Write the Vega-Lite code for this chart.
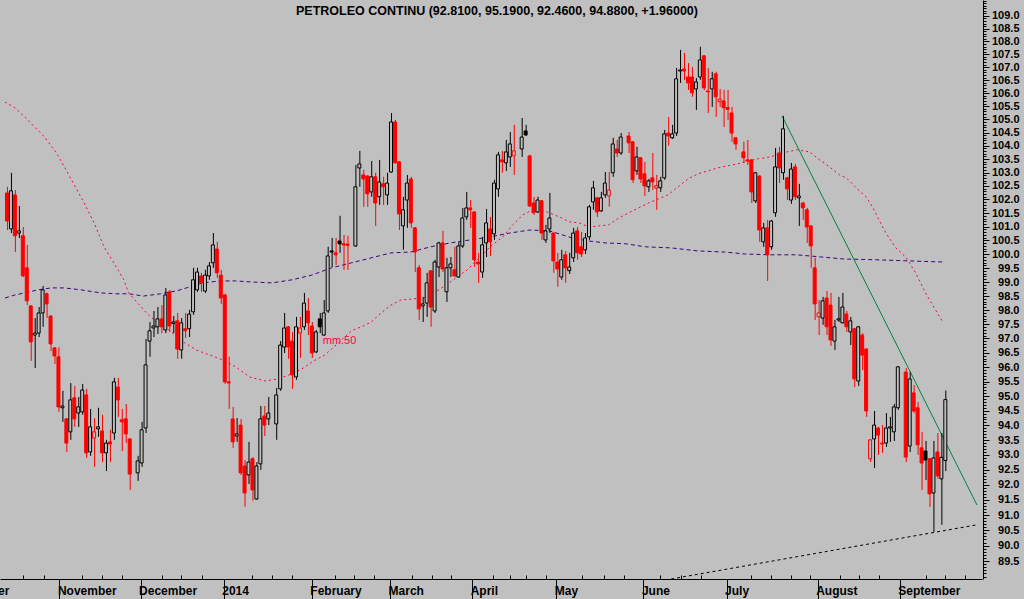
{
"$schema": "https://vega.github.io/schema/vega-lite/v6.json",
"width": 982, "height": 579,
"autosize": {"type": "none"}, "padding": {"left": 0, "top": 0, "right": 42, "bottom": 20},
"background": "#c0c0c0",
"config": {"view": {"stroke": null}, "font": "Liberation Sans"},
"title": {"text": "PETROLEO CONTINU (92.8100, 95.1900, 92.4600, 94.8800, +1.96000)", "anchor": "middle", "offset": -27, "dx": 6, "font": "Liberation Sans", "fontSize": 12.5, "fontWeight": "bold", "color": "#000000", "baseline": "alphabetic"},
"resolve": {"axis": {"x": "independent", "y": "independent"}},
"datasets": {
"candles": [
{"n":0,"o":102.24,"h":102.47,"l":100.88,"c":101.21},
{"n":1,"o":100.92,"h":102.99,"l":100.77,"c":102.32},
{"n":2,"o":102.17,"h":102.35,"l":100.08,"c":100.67},
{"n":3,"o":100.77,"h":101.76,"l":100.59,"c":100.85},
{"n":4,"o":100.67,"h":100.99,"l":99.18,"c":99.22},
{"n":5,"o":99.51,"h":100.34,"l":98.18,"c":98.33},
{"n":6,"o":98.15,"h":98.17,"l":96.22,"c":96.88},
{"n":7,"o":97.12,"h":97.72,"l":95.97,"c":97.19},
{"n":8,"o":97.19,"h":98.11,"l":97.05,"c":97.90},
{"n":9,"o":97.90,"h":98.86,"l":97.41,"c":98.72},
{"n":10,"o":98.58,"h":98.62,"l":97.72,"c":98.22},
{"n":11,"o":97.79,"h":97.82,"l":96.56,"c":96.81},
{"n":12,"o":96.67,"h":96.70,"l":96.11,"c":96.39},
{"n":13,"o":96.36,"h":96.70,"l":94.46,"c":94.63},
{"n":14,"o":94.60,"h":95.18,"l":94.12,"c":94.66},
{"n":15,"o":94.22,"h":94.25,"l":93.10,"c":93.40},
{"n":16,"o":93.78,"h":95.45,"l":93.51,"c":94.87},
{"n":17,"o":94.94,"h":95.35,"l":93.95,"c":94.22},
{"n":18,"o":94.42,"h":94.97,"l":93.95,"c":94.63},
{"n":19,"o":94.46,"h":95.42,"l":94.36,"c":95.21},
{"n":20,"o":95.04,"h":95.25,"l":92.90,"c":93.07},
{"n":21,"o":93.10,"h":94.56,"l":92.97,"c":93.95},
{"n":22,"o":93.57,"h":94.25,"l":92.60,"c":93.78},
{"n":23,"o":93.88,"h":94.60,"l":93.61,"c":93.95},
{"n":24,"o":93.81,"h":94.36,"l":92.76,"c":93.07},
{"n":25,"o":93.07,"h":93.51,"l":92.46,"c":93.40},
{"n":26,"o":93.44,"h":93.85,"l":92.76,"c":93.37},
{"n":27,"o":93.74,"h":95.63,"l":93.51,"c":95.49},
{"n":28,"o":95.31,"h":95.63,"l":94.29,"c":94.87},
{"n":29,"o":94.19,"h":94.56,"l":93.13,"c":94.12},
{"n":30,"o":94.22,"h":94.73,"l":93.40,"c":93.71},
{"n":31,"o":93.54,"h":93.57,"l":91.83,"c":92.36},
{"n":33,"o":92.40,"h":92.97,"l":92.13,"c":92.80},
{"n":34,"o":92.73,"h":94.12,"l":92.60,"c":93.85},
{"n":35,"o":93.91,"h":96.98,"l":93.74,"c":96.08},
{"n":36,"o":96.91,"h":97.58,"l":96.36,"c":97.27},
{"n":37,"o":97.37,"h":97.97,"l":97.05,"c":97.44},
{"n":38,"o":97.41,"h":98.11,"l":97.16,"c":97.69},
{"n":39,"o":97.69,"h":98.18,"l":97.19,"c":97.41},
{"n":40,"o":97.30,"h":98.79,"l":97.19,"c":98.54},
{"n":41,"o":98.65,"h":98.72,"l":97.23,"c":97.44},
{"n":42,"o":97.53,"h":97.79,"l":97.19,"c":97.58},
{"n":43,"o":97.62,"h":97.90,"l":96.29,"c":96.63},
{"n":44,"o":96.60,"h":97.72,"l":96.29,"c":97.55},
{"n":45,"o":97.34,"h":97.90,"l":97.02,"c":97.27},
{"n":46,"o":97.34,"h":98.01,"l":97.05,"c":97.86},
{"n":47,"o":97.94,"h":99.51,"l":97.83,"c":99.08},
{"n":48,"o":98.72,"h":99.51,"l":98.65,"c":99.36},
{"n":49,"o":99.22,"h":99.33,"l":98.65,"c":98.97},
{"n":50,"o":98.68,"h":99.44,"l":98.61,"c":99.25},
{"n":51,"o":99.22,"h":99.72,"l":99.08,"c":99.58},
{"n":52,"o":99.69,"h":100.77,"l":99.51,"c":100.34},
{"n":53,"o":100.19,"h":100.45,"l":99.15,"c":99.33},
{"n":54,"o":99.25,"h":99.44,"l":98.22,"c":98.43},
{"n":55,"o":98.54,"h":98.58,"l":95.42,"c":95.49},
{"n":56,"o":95.49,"h":96.36,"l":94.56,"c":95.45},
{"n":57,"o":94.22,"h":94.63,"l":93.24,"c":93.44},
{"n":58,"o":93.64,"h":94.25,"l":93.44,"c":93.71},
{"n":59,"o":94.01,"h":94.22,"l":92.33,"c":92.40},
{"n":60,"o":92.63,"h":92.83,"l":91.27,"c":91.73},
{"n":61,"o":92.33,"h":93.44,"l":92.03,"c":92.76},
{"n":62,"o":92.87,"h":92.93,"l":91.47,"c":91.83},
{"n":63,"o":91.53,"h":92.76,"l":91.50,"c":92.63},
{"n":64,"o":92.70,"h":94.66,"l":92.50,"c":94.22},
{"n":65,"o":94.32,"h":94.66,"l":93.64,"c":94.01},
{"n":66,"o":94.22,"h":94.97,"l":94.01,"c":94.42},
{"n":68,"o":94.05,"h":95.28,"l":93.51,"c":95.04},
{"n":69,"o":95.25,"h":96.91,"l":95.18,"c":96.77},
{"n":70,"o":96.70,"h":97.90,"l":96.49,"c":97.37},
{"n":71,"o":97.41,"h":97.44,"l":96.29,"c":96.70},
{"n":72,"o":96.91,"h":97.23,"l":95.25,"c":95.73},
{"n":73,"o":95.66,"h":97.76,"l":95.56,"c":97.41},
{"n":74,"o":97.19,"h":97.76,"l":96.32,"c":97.37},
{"n":75,"o":97.41,"h":98.61,"l":97.30,"c":98.25},
{"n":76,"o":97.97,"h":98.43,"l":97.12,"c":97.55},
{"n":77,"o":97.44,"h":97.58,"l":96.32,"c":96.49},
{"n":78,"o":96.53,"h":97.30,"l":96.49,"c":97.23},
{"n":79,"o":97.69,"h":97.90,"l":97.19,"c":97.41},
{"n":80,"o":97.12,"h":98.36,"l":97.09,"c":97.90},
{"n":81,"o":97.97,"h":100.27,"l":97.90,"c":99.94},
{"n":82,"o":100.12,"h":100.59,"l":99.54,"c":100.08},
{"n":83,"o":100.05,"h":100.59,"l":99.61,"c":99.98},
{"n":84,"o":100.48,"h":101.40,"l":100.05,"c":100.38},
{"n":85,"o":100.38,"h":100.70,"l":99.44,"c":100.34},
{"n":86,"o":100.37,"h":100.67,"l":99.44,"c":100.32},
{"n":88,"o":100.30,"h":103.28,"l":100.27,"c":102.47},
{"n":89,"o":103.17,"h":103.81,"l":102.47,"c":103.32},
{"n":90,"o":102.91,"h":103.10,"l":101.73,"c":102.76},
{"n":91,"o":102.87,"h":102.90,"l":101.73,"c":102.21},
{"n":92,"o":102.28,"h":103.43,"l":102.10,"c":102.84},
{"n":93,"o":102.84,"h":102.99,"l":101.03,"c":101.87},
{"n":94,"o":102.10,"h":103.47,"l":101.80,"c":102.65},
{"n":95,"o":102.58,"h":102.84,"l":101.80,"c":102.47},
{"n":96,"o":102.17,"h":102.99,"l":101.80,"c":102.61},
{"n":97,"o":103.02,"h":105.24,"l":102.99,"c":104.90},
{"n":98,"o":104.90,"h":104.98,"l":103.34,"c":103.36},
{"n":99,"o":103.40,"h":103.42,"l":100.88,"c":101.47},
{"n":100,"o":101.03,"h":102.10,"l":100.16,"c":101.62},
{"n":101,"o":101.98,"h":102.91,"l":100.96,"c":102.61},
{"n":102,"o":102.76,"h":102.84,"l":100.96,"c":101.14},
{"n":103,"o":100.96,"h":100.99,"l":99.36,"c":100.08},
{"n":104,"o":99.51,"h":99.61,"l":97.65,"c":98.04},
{"n":105,"o":98.15,"h":98.47,"l":97.58,"c":98.22},
{"n":106,"o":98.25,"h":99.33,"l":97.76,"c":98.97},
{"n":107,"o":99.40,"h":99.43,"l":97.41,"c":98.11},
{"n":108,"o":97.97,"h":99.80,"l":97.90,"c":99.72},
{"n":109,"o":99.54,"h":100.45,"l":99.18,"c":100.41},
{"n":110,"o":100.41,"h":100.85,"l":99.36,"c":99.47},
{"n":111,"o":98.65,"h":99.87,"l":98.29,"c":99.51},
{"n":112,"o":99.51,"h":99.90,"l":99.18,"c":99.65},
{"n":113,"o":99.44,"h":100.27,"l":99.18,"c":99.22},
{"n":114,"o":99.18,"h":100.45,"l":99.15,"c":100.30},
{"n":115,"o":100.30,"h":101.69,"l":100.23,"c":101.32},
{"n":116,"o":101.36,"h":102.28,"l":101.25,"c":101.69},
{"n":117,"o":101.69,"h":101.98,"l":100.96,"c":101.62},
{"n":118,"o":101.54,"h":101.57,"l":99.54,"c":99.80},
{"n":119,"o":99.72,"h":100.05,"l":98.97,"c":99.65},
{"n":120,"o":99.36,"h":100.63,"l":99.15,"c":100.34},
{"n":121,"o":100.41,"h":101.65,"l":99.90,"c":101.14},
{"n":122,"o":100.92,"h":101.36,"l":99.94,"c":100.45},
{"n":123,"o":100.74,"h":102.73,"l":100.52,"c":102.61},
{"n":124,"o":102.39,"h":103.77,"l":102.10,"c":103.66},
{"n":125,"o":103.47,"h":103.81,"l":102.99,"c":103.40},
{"n":126,"o":103.36,"h":104.22,"l":103.06,"c":103.77},
{"n":127,"o":103.58,"h":104.52,"l":103.21,"c":104.07},
{"n":128,"o":103.62,"h":104.79,"l":102.91,"c":103.81},
{"n":130,"o":103.88,"h":105.05,"l":103.58,"c":104.33},
{"n":131,"o":104.56,"h":104.79,"l":104.37,"c":104.41},
{"n":132,"o":103.62,"h":103.66,"l":101.73,"c":101.76},
{"n":133,"o":101.87,"h":102.10,"l":101.43,"c":101.51},
{"n":134,"o":101.54,"h":102.10,"l":101.51,"c":101.98},
{"n":135,"o":101.95,"h":101.98,"l":100.52,"c":100.77},
{"n":136,"o":100.52,"h":101.07,"l":100.41,"c":100.85},
{"n":137,"o":100.92,"h":102.24,"l":100.77,"c":101.32},
{"n":138,"o":100.77,"h":100.80,"l":99.33,"c":99.76},
{"n":139,"o":99.72,"h":100.05,"l":98.83,"c":99.47},
{"n":140,"o":99.18,"h":100.16,"l":99.08,"c":99.80},
{"n":141,"o":99.98,"h":100.12,"l":98.97,"c":99.51},
{"n":142,"o":99.41,"h":100.05,"l":99.29,"c":99.54},
{"n":143,"o":99.87,"h":100.96,"l":99.72,"c":100.77},
{"n":144,"o":100.85,"h":100.99,"l":99.80,"c":100.05},
{"n":145,"o":100.27,"h":100.81,"l":99.90,"c":100.01},
{"n":146,"o":100.16,"h":100.77,"l":100.01,"c":100.59},
{"n":147,"o":100.63,"h":101.80,"l":100.52,"c":101.73},
{"n":148,"o":101.91,"h":102.69,"l":101.62,"c":102.43},
{"n":149,"o":102.06,"h":102.10,"l":101.36,"c":101.54},
{"n":150,"o":101.58,"h":102.28,"l":101.54,"c":102.06},
{"n":151,"o":102.17,"h":103.02,"l":102.06,"c":102.61},
{"n":152,"o":102.13,"h":103.02,"l":101.73,"c":102.35},
{"n":153,"o":102.99,"h":104.30,"l":102.84,"c":104.07},
{"n":154,"o":103.88,"h":104.22,"l":103.58,"c":103.73},
{"n":155,"o":103.73,"h":104.48,"l":103.66,"c":104.33},
{"n":157,"o":104.37,"h":104.52,"l":103.73,"c":104.11},
{"n":158,"o":104.15,"h":104.18,"l":102.61,"c":102.73},
{"n":159,"o":103.06,"h":103.96,"l":102.91,"c":103.58},
{"n":160,"o":103.55,"h":103.58,"l":102.61,"c":102.76},
{"n":161,"o":102.95,"h":103.40,"l":102.13,"c":102.50},
{"n":162,"o":102.47,"h":102.76,"l":102.28,"c":102.69},
{"n":163,"o":102.80,"h":103.73,"l":102.35,"c":102.65},
{"n":164,"o":102.42,"h":102.91,"l":101.62,"c":102.51},
{"n":165,"o":102.43,"h":102.84,"l":102.28,"c":102.69},
{"n":166,"o":102.80,"h":104.60,"l":102.73,"c":104.45},
{"n":167,"o":104.48,"h":105.09,"l":104.00,"c":104.37},
{"n":168,"o":104.30,"h":104.79,"l":104.26,"c":104.45},
{"n":169,"o":104.48,"h":106.97,"l":104.37,"c":106.55},
{"n":170,"o":106.85,"h":107.67,"l":106.39,"c":106.89},
{"n":171,"o":106.93,"h":107.55,"l":106.51,"c":106.85},
{"n":172,"o":106.62,"h":107.16,"l":106.12,"c":106.39},
{"n":173,"o":106.62,"h":107.01,"l":105.86,"c":106.01},
{"n":174,"o":106.16,"h":106.58,"l":105.36,"c":106.43},
{"n":175,"o":106.62,"h":107.79,"l":106.51,"c":107.28},
{"n":176,"o":107.44,"h":107.47,"l":106.12,"c":106.20},
{"n":177,"o":106.08,"h":106.97,"l":105.24,"c":106.05},
{"n":178,"o":106.16,"h":106.82,"l":105.47,"c":106.55},
{"n":179,"o":106.74,"h":106.82,"l":105.09,"c":105.86},
{"n":180,"o":105.67,"h":106.16,"l":105.47,"c":105.77},
{"n":181,"o":105.70,"h":106.12,"l":104.71,"c":105.44},
{"n":182,"o":105.45,"h":106.12,"l":104.98,"c":105.38},
{"n":183,"o":105.24,"h":105.47,"l":104.15,"c":104.48},
{"n":184,"o":104.30,"h":104.33,"l":103.85,"c":104.07},
{"n":186,"o":103.77,"h":104.15,"l":103.36,"c":103.55},
{"n":187,"o":103.47,"h":104.22,"l":103.28,"c":103.43},
{"n":188,"o":103.47,"h":103.50,"l":101.87,"c":102.28},
{"n":189,"o":101.95,"h":103.02,"l":101.87,"c":102.99},
{"n":190,"o":102.87,"h":102.90,"l":100.45,"c":100.88},
{"n":191,"o":100.45,"h":101.14,"l":100.27,"c":100.96},
{"n":192,"o":100.96,"h":101.25,"l":99.04,"c":99.98},
{"n":193,"o":100.27,"h":101.25,"l":100.16,"c":101.21},
{"n":194,"o":101.51,"h":103.92,"l":101.36,"c":103.21},
{"n":195,"o":103.73,"h":103.96,"l":102.61,"c":103.17},
{"n":196,"o":102.99,"h":105.13,"l":102.73,"c":104.64},
{"n":197,"o":102.80,"h":102.84,"l":101.98,"c":102.39},
{"n":198,"o":101.98,"h":103.36,"l":101.84,"c":103.13},
{"n":199,"o":103.21,"h":103.32,"l":101.98,"c":102.10},
{"n":200,"o":102.06,"h":102.58,"l":101.03,"c":102.13},
{"n":201,"o":101.87,"h":101.91,"l":101.25,"c":101.69},
{"n":202,"o":101.62,"h":101.69,"l":100.41,"c":100.99},
{"n":203,"o":101.03,"h":101.06,"l":99.51,"c":100.30},
{"n":204,"o":99.51,"h":99.87,"l":97.65,"c":98.22},
{"n":205,"o":97.76,"h":98.36,"l":97.12,"c":97.90},
{"n":206,"o":97.72,"h":98.47,"l":97.48,"c":98.33},
{"n":207,"o":98.43,"h":98.68,"l":97.12,"c":97.41},
{"n":208,"o":98.18,"h":98.61,"l":96.74,"c":96.95},
{"n":209,"o":96.91,"h":97.65,"l":96.60,"c":97.41},
{"n":210,"o":97.65,"h":98.47,"l":97.58,"c":97.69},
{"n":211,"o":97.55,"h":98.61,"l":97.53,"c":98.11},
{"n":212,"o":97.86,"h":97.97,"l":97.23,"c":97.41},
{"n":213,"o":97.23,"h":97.76,"l":96.77,"c":97.62},
{"n":214,"o":97.34,"h":97.37,"l":95.31,"c":95.59},
{"n":215,"o":95.52,"h":97.44,"l":95.35,"c":97.41},
{"n":216,"o":97.12,"h":97.19,"l":95.90,"c":96.42},
{"n":217,"o":96.63,"h":96.66,"l":94.29,"c":94.49},
{"n":218,"o":92.87,"h":93.53,"l":92.76,"c":93.51},
{"n":219,"o":93.54,"h":94.49,"l":92.56,"c":94.01},
{"n":220,"o":93.91,"h":93.95,"l":93.00,"c":93.67},
{"n":221,"o":93.40,"h":94.01,"l":93.07,"c":93.37},
{"n":222,"o":93.40,"h":94.42,"l":93.27,"c":93.91},
{"n":223,"o":93.91,"h":94.29,"l":93.44,"c":93.95},
{"n":224,"o":93.78,"h":94.73,"l":93.47,"c":94.63},
{"n":225,"o":94.60,"h":96.04,"l":94.53,"c":96.01},
{"n":227,"o":95.83,"h":95.97,"l":92.76,"c":92.93},
{"n":228,"o":93.30,"h":95.83,"l":93.10,"c":95.59},
{"n":229,"o":95.11,"h":95.38,"l":94.42,"c":94.49},
{"n":230,"o":94.60,"h":94.80,"l":93.00,"c":93.34},
{"n":231,"o":93.24,"h":93.78,"l":91.83,"c":92.73},
{"n":232,"o":93.13,"h":93.47,"l":92.16,"c":92.83},
{"n":233,"o":92.87,"h":92.90,"l":91.27,"c":91.70},
{"n":234,"o":91.73,"h":93.47,"l":90.45,"c":92.90},
{"n":235,"o":93.10,"h":93.74,"l":92.20,"c":92.30},
{"n":236,"o":92.20,"h":93.74,"l":90.68,"c":92.92},
{"n":237,"o":92.81,"h":95.19,"l":92.46,"c":94.88}
],
"ma50": [
{"n":-0.5,"v":105.66},{"n":2,"v":105.44},{"n":4.5,"v":105.09},{"n":7,"v":104.71},{"n":9.5,"v":104.33},{"n":12.5,"v":103.73},{"n":14.5,"v":103.21},{"n":17,"v":102.54},{"n":19.5,"v":101.87},{"n":22,"v":101.14},{"n":24.5,"v":100.27},{"n":27,"v":99.69},{"n":29.5,"v":99.08},{"n":30.75,"v":98.61},{"n":32.75,"v":98.29},{"n":35.25,"v":97.90},{"n":37.75,"v":97.58},{"n":40.25,"v":97.37},{"n":44.5,"v":96.88},{"n":47.75,"v":96.60},{"n":51.25,"v":96.42},{"n":54.5,"v":96.25},{"n":57.75,"v":96.01},{"n":61.25,"v":95.66},{"n":65.25,"v":95.52},{"n":68.25,"v":95.59},{"n":71.25,"v":95.73},{"n":74.5,"v":95.94},{"n":77.5,"v":96.22},{"n":80.25,"v":96.42},{"n":84,"v":96.88},{"n":87,"v":97.27},{"n":89.5,"v":97.41},{"n":92,"v":97.58},{"n":94.5,"v":97.90},{"n":97,"v":98.18},{"n":99.5,"v":98.36},{"n":102.75,"v":98.40},{"n":105.25,"v":98.43},{"n":107.75,"v":98.61},{"n":110.25,"v":98.83},{"n":112.75,"v":99.08},{"n":116.25,"v":99.44},{"n":118.75,"v":99.80},{"n":122,"v":100.27},{"n":125.25,"v":100.63},{"n":127.75,"v":101.07},{"n":130.25,"v":101.43},{"n":132.75,"v":101.62},{"n":135.75,"v":101.58},{"n":139.5,"v":101.36},{"n":142,"v":101.18},{"n":144.5,"v":101.14},{"n":147,"v":100.99},{"n":149.5,"v":101.03},{"n":152,"v":101.07},{"n":153.75,"v":101.25},{"n":157,"v":101.51},{"n":159.5,"v":101.69},{"n":162,"v":101.87},{"n":164.5,"v":102.02},{"n":167,"v":102.17},{"n":169.5,"v":102.47},{"n":172,"v":102.76},{"n":174.5,"v":102.95},{"n":177,"v":103.06},{"n":179.5,"v":103.17},{"n":182,"v":103.25},{"n":184.5,"v":103.32},{"n":189.5,"v":103.51},{"n":192.75,"v":103.58},{"n":195.75,"v":103.73},{"n":199.5,"v":103.85},{"n":202.75,"v":103.77},{"n":205.25,"v":103.47},{"n":207.75,"v":103.21},{"n":210.25,"v":102.91},{"n":212,"v":102.80},{"n":214.5,"v":102.43},{"n":217,"v":102.10},{"n":218.75,"v":101.69},{"n":220.25,"v":101.25},{"n":222,"v":100.77},{"n":224.5,"v":100.23},{"n":227,"v":99.90},{"n":229.5,"v":99.33},{"n":232,"v":98.61},{"n":234.5,"v":98.01},{"n":236.5,"v":97.55}
],
"ma200": [
{"n":-0.5,"v":98.43},{"n":2,"v":98.54},{"n":4.5,"v":98.61},{"n":7.75,"v":98.72},{"n":11.25,"v":98.79},{"n":14.5,"v":98.79},{"n":18.75,"v":98.72},{"n":23.75,"v":98.61},{"n":27.75,"v":98.58},{"n":30.75,"v":98.58},{"n":34.5,"v":98.50},{"n":38.75,"v":98.58},{"n":42.75,"v":98.68},{"n":46.25,"v":98.83},{"n":49.5,"v":98.97},{"n":53.75,"v":99.04},{"n":57.75,"v":99.04},{"n":62,"v":99.00},{"n":67,"v":98.97},{"n":72,"v":99.08},{"n":77,"v":99.25},{"n":82,"v":99.51},{"n":87,"v":99.69},{"n":92,"v":99.87},{"n":97,"v":100.05},{"n":102,"v":100.08},{"n":107,"v":100.27},{"n":112,"v":100.41},{"n":117,"v":100.52},{"n":122,"v":100.63},{"n":127,"v":100.77},{"n":132,"v":100.88},{"n":137,"v":100.85},{"n":142.75,"v":100.59},{"n":147,"v":100.48},{"n":151.25,"v":100.41},{"n":156.25,"v":100.38},{"n":161.25,"v":100.27},{"n":167.75,"v":100.23},{"n":174.5,"v":100.12},{"n":181.25,"v":100.08},{"n":186.25,"v":100.01},{"n":192.75,"v":99.98},{"n":199.5,"v":99.98},{"n":211.25,"v":99.83},{"n":219.5,"v":99.80},{"n":227.75,"v":99.76},{"n":236.25,"v":99.72}
],
"trend": [{"n":195.75,"v":105.13},{"n":245,"v":91.33}],
"support": [{"n":167.75,"v":88.92},{"n":245,"v":90.68}]
},
"layer": [
{"data": {"name": "ma200"},
 "mark": {"type": "line", "color": "#400080", "strokeWidth": 1, "strokeDash": [4, 3]},
 "encoding": {
  "x": {"field": "n", "type": "quantitative", "scale": {"domain": [-0.5, 245], "nice": false, "zero": false}, "axis": null},
  "y": {"field": "v", "type": "quantitative", "scale": {"type": "log", "domain": [88.92, 109.63], "nice": false}, "axis": null}}},
{"data": {"name": "ma50"},
 "mark": {"type": "line", "color": "#ff0040", "strokeWidth": 1, "strokeDash": [2, 3]},
 "encoding": {
  "x": {"field": "n", "type": "quantitative", "scale": {"domain": [-0.5, 245], "nice": false, "zero": false}, "axis": null},
  "y": {"field": "v", "type": "quantitative", "scale": {"type": "log", "domain": [88.92, 109.63], "nice": false}, "axis": null}}},
{"data": {"name": "trend"},
 "mark": {"type": "line", "color": "#008040", "strokeWidth": 1},
 "encoding": {
  "x": {"field": "n", "type": "quantitative", "scale": {"domain": [-0.5, 245], "nice": false, "zero": false}, "axis": null},
  "y": {"field": "v", "type": "quantitative", "scale": {"type": "log", "domain": [88.92, 109.63], "nice": false}, "axis": null}}},
{"data": {"name": "support"},
 "mark": {"type": "line", "color": "#000000", "strokeWidth": 1, "strokeDash": [3, 3]},
 "encoding": {
  "x": {"field": "n", "type": "quantitative", "scale": {"domain": [-0.5, 245], "nice": false, "zero": false}, "axis": null},
  "y": {"field": "v", "type": "quantitative", "scale": {"type": "log", "domain": [88.92, 109.63], "nice": false}, "axis": null}}},
{"data": {"name": "candles"},
 "transform": [
  {"window": [{"op": "lag", "field": "c", "as": "pc"}], "sort": [{"field": "n", "order": "ascending"}]},
  {"calculate": "datum.pc == null ? (datum.c >= datum.o ? '#000000' : '#ff0000') : (datum.c >= datum.pc ? '#000000' : '#ff0000')", "as": "col"},
  {"calculate": "datum.c >= datum.o ? '#c0c0c0' : datum.col", "as": "fil"}
 ],
 "mark": {"type": "rule", "strokeWidth": 1, "xOffset": 0.5},
 "encoding": {
  "x": {"field": "n", "type": "quantitative", "scale": {"domain": [-0.5, 245], "nice": false, "zero": false},
   "axis": {"orient": "bottom", "values": [13.25, 33.75, 54.75, 77, 96.75, 117.5, 138.75, 160.75, 181.75, 204.75, 225.5],
    "labelExpr": "datum.value < 20 ? 'November' : datum.value < 40 ? 'December' : datum.value < 60 ? '2014' : datum.value < 85 ? 'February' : datum.value < 105 ? 'March' : datum.value < 125 ? 'April' : datum.value < 150 ? 'May' : datum.value < 170 ? 'June' : datum.value < 190 ? 'July' : datum.value < 215 ? 'August' : 'September'",
    "title": null, "grid": false, "domain": true, "domainColor": "#000000", "domainWidth": 1,
    "ticks": true, "tickSize": 20, "tickColor": "#000000", "tickWidth": 1,
    "labelAlign": "left", "labelOffset": -2, "labelPadding": -14, "labelBaseline": "top",
    "labelFont": "Liberation Sans", "labelFontWeight": "bold", "labelFontSize": 12, "labelColor": "#000000",
    "labelOverlap": false, "labelFlush": false, "labelBound": false}},
  "y": {"field": "l", "type": "quantitative", "scale": {"type": "log", "domain": [88.92, 109.63], "nice": false},
   "axis": {"orient": "right", "offset": 1, "values": [89.5,90,90.5,91,91.5,92,92.5,93,93.5,94,94.5,95,95.5,96,96.5,97,97.5,98,98.5,99,99.5,100,100.5,101,101.5,102,102.5,103,103.5,104,104.5,105,105.5,106,106.5,107,107.5,108,108.5,109],
    "format": ".1f", "title": null, "grid": false, "domain": true, "domainColor": "#000000", "domainWidth": 1,
    "ticks": true, "tickSize": 6, "tickColor": "#000000", "tickWidth": 1,
    "labelAlign": "right", "labelPadding": 30, "labelBaseline": "middle",
    "labelFont": "Liberation Sans", "labelFontWeight": "bold", "labelFontSize": 11, "labelColor": "#000000",
    "labelOverlap": false, "labelFlush": false, "labelBound": false}},
  "y2": {"field": "h"},
  "stroke": {"field": "col", "type": "nominal", "scale": null}}},
{"data": {"name": "candles"},
 "transform": [
  {"window": [{"op": "lag", "field": "c", "as": "pc"}], "sort": [{"field": "n", "order": "ascending"}]},
  {"calculate": "datum.pc == null ? (datum.c >= datum.o ? '#000000' : '#ff0000') : (datum.c >= datum.pc ? '#000000' : '#ff0000')", "as": "col"},
  {"calculate": "datum.c >= datum.o ? '#c0c0c0' : datum.col", "as": "fil"}
 ],
 "mark": {"type": "bar", "width": 3, "strokeWidth": 1, "orient": "vertical"},
 "encoding": {
  "x": {"field": "n", "type": "quantitative", "scale": {"domain": [-0.5, 245], "nice": false, "zero": false},
   "axis": {"orient": "bottom", "values": [4.1, 9.3, 18.9, 23.9, 29.1, 39.1, 43.9, 49.25, 61.8, 67, 72, 82.8, 87.7, 92.6, 102.2, 107.25, 112.25, 122.8, 127, 131.2, 136.2, 145.3, 150.75, 155.75, 164.9, 170.2, 175.3, 187.8, 193, 198, 202.8, 210.3, 215.3, 220.3, 232, 237, 242],
    "labels": false, "title": null, "grid": false, "domain": false, "ticks": true, "tickSize": -4, "tickColor": "#000000", "tickWidth": 1}},
  "y": {"field": "o", "type": "quantitative", "scale": {"type": "log", "domain": [88.92, 109.63], "nice": false},
   "axis": {"orient": "right", "offset": 1, "values": [89,89.1,89.2,89.3,89.4,89.5,89.6,89.7,89.8,89.9,90,90.1,90.2,90.3,90.4,90.5,90.6,90.7,90.8,90.9,91,91.1,91.2,91.3,91.4,91.5,91.6,91.7,91.8,91.9,92,92.1,92.2,92.3,92.4,92.5,92.6,92.7,92.8,92.9,93,93.1,93.2,93.3,93.4,93.5,93.6,93.7,93.8,93.9,94,94.1,94.2,94.3,94.4,94.5,94.6,94.7,94.8,94.9,95,95.1,95.2,95.3,95.4,95.5,95.6,95.7,95.8,95.9,96,96.1,96.2,96.3,96.4,96.5,96.6,96.7,96.8,96.9,97,97.1,97.2,97.3,97.4,97.5,97.6,97.7,97.8,97.9,98,98.1,98.2,98.3,98.4,98.5,98.6,98.7,98.8,98.9,99,99.1,99.2,99.3,99.4,99.5,99.6,99.7,99.8,99.9,100,100.1,100.2,100.3,100.4,100.5,100.6,100.7,100.8,100.9,101,101.1,101.2,101.3,101.4,101.5,101.6,101.7,101.8,101.9,102,102.1,102.2,102.3,102.4,102.5,102.6,102.7,102.8,102.9,103,103.1,103.2,103.3,103.4,103.5,103.6,103.7,103.8,103.9,104,104.1,104.2,104.3,104.4,104.5,104.6,104.7,104.8,104.9,105,105.1,105.2,105.3,105.4,105.5,105.6,105.7,105.8,105.9,106,106.1,106.2,106.3,106.4,106.5,106.6,106.7,106.8,106.9,107,107.1,107.2,107.3,107.4,107.5,107.6,107.7,107.8,107.9,108,108.1,108.2,108.3,108.4,108.5,108.6,108.7,108.8,108.9,109,109.1,109.2,109.3,109.4,109.5,109.6],
    "labels": false, "title": null, "grid": false, "domain": false, "ticks": true, "tickSize": 3, "tickColor": "#000000", "tickWidth": 1}},
  "y2": {"field": "c"},
  "stroke": {"field": "col", "type": "nominal", "scale": null},
  "fill": {"field": "fil", "type": "nominal", "scale": null}}},
{"data": {"values": [{"n": 79.75, "v": 96.91, "t": "mm.50"}]},
 "mark": {"type": "text", "align": "left", "baseline": "middle", "font": "Liberation Sans", "fontSize": 11, "color": "#ff0040"},
 "encoding": {
  "x": {"field": "n", "type": "quantitative", "scale": {"domain": [-0.5, 245], "nice": false, "zero": false}, "axis": null},
  "y": {"field": "v", "type": "quantitative", "scale": {"type": "log", "domain": [88.92, 109.63], "nice": false}, "axis": null},
  "text": {"field": "t"}}},
{"data": {"values": [{"n": -11, "v": 88.71, "t": "October"}]},
 "mark": {"type": "text", "align": "left", "baseline": "top", "font": "Liberation Sans", "fontWeight": "bold", "fontSize": 12, "color": "#000000"},
 "encoding": {
  "x": {"field": "n", "type": "quantitative", "scale": {"domain": [-0.5, 245], "nice": false, "zero": false}, "axis": null},
  "y": {"field": "v", "type": "quantitative", "scale": {"type": "log", "domain": [88.92, 109.63], "nice": false}, "axis": null},
  "text": {"field": "t"}}}
]
}
